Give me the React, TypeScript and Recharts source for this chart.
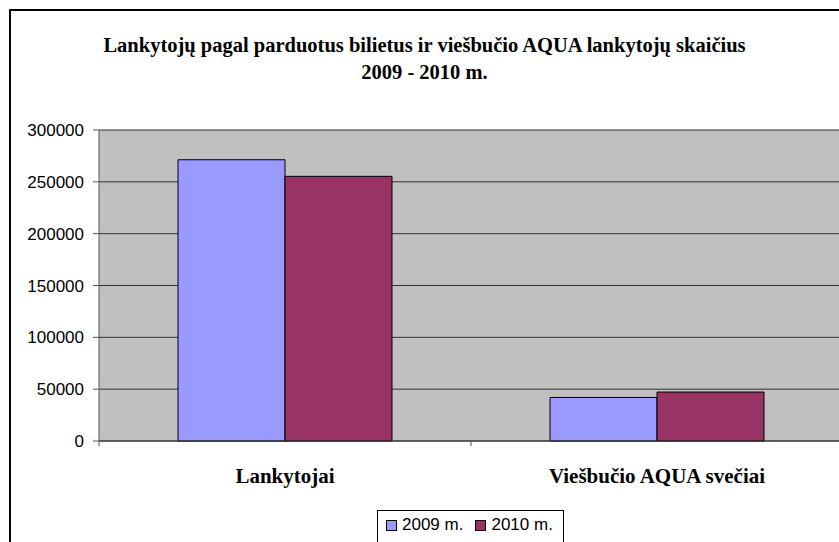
import { BarChart, Bar, XAxis, YAxis, CartesianGrid } from 'recharts';

const categories = ['Lankytojai', 'Viešbučio AQUA svečiai'];
const visitors2009 = [271300, 42000];
const visitors2010 = [255300, 47200];
const yTicks = [0, 50000, 100000, 150000, 200000, 250000, 300000];
const seriesNames = ['2009 m.', '2010 m.'];
const titleLines = [
  'Lankytojų pagal parduotus bilietus ir viešbučio AQUA lankytojų skaičius',
  '2009 - 2010 m.'
];

const COLORS = ['#9999FF', '#993366'];
const SERIF = '"Liberation Serif", "Times New Roman", serif';
const SANS = '"Liberation Sans", Arial, sans-serif';

const data = categories.map((name, i) => ({
  name,
  y2009: visitors2009[i],
  y2010: visitors2010[i]
}));

function CategoryTick(props: any) {
  const { x, y, payload } = props;
  const half = payload && payload.offset ? payload.offset : 0;
  return (
    <g>
      <line x1={x - half} y1={y - 8} x2={x - half} y2={y - 3} stroke="#555" />
      <text
        x={x}
        y={y + 34}
        textAnchor="middle"
        fontFamily={SERIF}
        fontWeight="bold"
        fontSize={21}
        fill="#000"
      >
        {payload.value}
      </text>
    </g>
  );
}

function LegendBox() {
  return (
    <div
      style={{
        position: 'absolute',
        left: 377,
        top: 510,
        border: '1px solid #000',
        background: '#fff',
        padding: '4px 10px 10px 8px',
        display: 'flex',
        gap: 12,
        fontFamily: SANS,
        fontSize: 17,
        color: '#000',
        whiteSpace: 'nowrap'
      }}
    >
      {seriesNames.map((n, i) => (
        <span key={n} style={{ display: 'flex', alignItems: 'center', gap: 5 }}>
          <span
            style={{
              display: 'inline-block',
              width: 9,
              height: 9,
              background: COLORS[i],
              border: '1px solid #000'
            }}
          />
          {n}
        </span>
      ))}
    </div>
  );
}

export default function App() {
  return (
    <div
      style={{
        position: 'fixed',
        left: 0,
        top: 0,
        width: 839,
        height: 542,
        overflow: 'hidden',
        background: '#fff'
      }}
    >
      <div
        style={{
          position: 'absolute',
          left: 9,
          top: 9,
          width: 900,
          height: 600,
          border: '2px solid #000'
        }}
      />
      <div
        style={{
          position: 'absolute',
          left: 10,
          top: 32,
          width: 829,
          textAlign: 'center',
          fontFamily: SERIF,
          fontWeight: 'bold',
          fontSize: 20.5,
          lineHeight: '27px',
          color: '#000'
        }}
      >
        {titleLines.map((t) => (
          <div key={t}>{t}</div>
        ))}
      </div>
      <div style={{ position: 'absolute', left: 0, top: 0 }}>
        <BarChart
          width={850}
          height={542}
          data={data}
          margin={{ top: 130, right: 7, left: 0, bottom: 71 }}
          barGap={0}
          barSize={107}
        >
          <CartesianGrid
            vertical={false}
            fill="#C0C0C0"
            stroke="#333"
            horizontalValues={yTicks}
          />
          <XAxis
            dataKey="name"
            height={30}
            axisLine={{ stroke: '#333' }}
            tickLine={false}
            tick={<CategoryTick />}
            interval={0}
          />
          <YAxis
            width={99}
            domain={[0, 300000]}
            ticks={yTicks}
            interval={0}
            axisLine={{ stroke: '#555' }}
            tickLine={{ stroke: '#555' }}
            tickSize={6}
            tickMargin={9}
            tick={{ fontFamily: SANS, fontSize: 17, fill: '#000' }}
          />
          <Bar dataKey="y2009" name={seriesNames[0]} fill={COLORS[0]} stroke="#000" strokeWidth={1} isAnimationActive={false} />
          <Bar dataKey="y2010" name={seriesNames[1]} fill={COLORS[1]} stroke="#000" strokeWidth={1} isAnimationActive={false} />
        </BarChart>
      </div>
      <LegendBox />
    </div>
  );
}
